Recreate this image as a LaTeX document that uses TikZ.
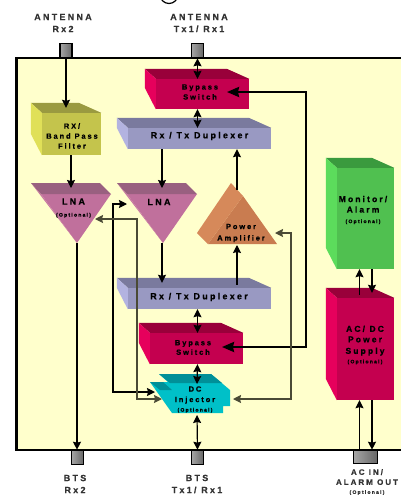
\documentclass[tikz,border=0pt]{standalone}
\usepackage{fontspec}
\setmainfont[LetterSpace=25,BoldFeatures={FakeBold=0.7}]{Liberation Sans}
\usetikzlibrary{arrows.meta}

\definecolor{panelFill}{HTML}{FFFFCC}
\definecolor{bypassTop}{HTML}{99003A}
\definecolor{bypassFront}{HTML}{C4004F}
\definecolor{bypassSide}{HTML}{E6005C}
\definecolor{duplexTop}{HTML}{7A7A9E}
\definecolor{duplexFront}{HTML}{9999C2}
\definecolor{duplexSide}{HTML}{B3B3E0}
\definecolor{filterTop}{HTML}{9A9A40}
\definecolor{filterFront}{HTML}{C4C44C}
\definecolor{filterSide}{HTML}{E0E058}
\definecolor{monitorTop}{HTML}{3A9A3E}
\definecolor{monitorFront}{HTML}{50C050}
\definecolor{monitorSide}{HTML}{5CDC5C}
\definecolor{lnaTop}{HTML}{996080}
\definecolor{lnaFront}{HTML}{C0709C}
\definecolor{lnaSide}{HTML}{C878A2}
\definecolor{ampFront}{HTML}{C97C50}
\definecolor{ampSide}{HTML}{D6895A}
\definecolor{dcTop}{HTML}{009098}
\definecolor{dcFront}{HTML}{00C0C8}
\definecolor{paleLine}{HTML}{4A4A35}

\newcommand{\optional}{{\fontsize{5}{6}\selectfont (Optional)}}
% front face as a node, then the two faces behind it
\newcommand{\slab}[5]{
  \node[face=#5, minimum width=#3pt, minimum height=#4pt] (#1) at (#2) {};
  \fill[#5Top] (#1.north west) -- ++(-11,-10) -- ++(#3-11,0) -- (#1.north east) -- cycle;
  \fill[#5Side] (#1.north west) -- ++(-11,-10) -- ++(0,#4-11) -- (#1.south west) -- cycle;
}

\begin{document}
\begin{tikzpicture}[x=1pt, y=-1pt, >={Stealth[length=8pt,width=8pt,inset=1pt]},
                    face/.style={fill=#1Front, inner sep=0pt},
                    port/.style={draw=black, line width=1.6pt, inner sep=0pt, left color=black!35, right color=black!60},
                    txt/.style={align=center, inner sep=0pt, font=\fontsize{#1}{#1}\selectfont\bfseries},
                    lab/.style={align=center, inner sep=0pt, text=black!80, font=\fontsize{#1}{12}\selectfont\bfseries},
                    link/.style={line width=1.2pt},
                    pale/.style={line width=1.3pt, draw=paleLine},
                    bus/.style={line width=2.2pt, >={Stealth[length=12pt,width=10pt,inset=1pt]}}]
\useasboundingbox (0,0) rectangle (401,496);

\draw[line width=1.2pt] (169,-5.5) circle (9);

\fill[panelFill] (16.5,58) rectangle (401,450);
\draw[line width=2.2pt] (401,58) -- (16.5,58) -- (16.5,450) -- (401,450);

\node[port, minimum width=12pt, minimum height=14pt] (antRx) at (66,50.5) {};
\node[port, minimum width=12pt, minimum height=14pt] (antTx) at (197.5,50.5) {};
\node[port, minimum width=12pt, minimum height=14pt] (btsRx) at (77.5,457.5) {};
\node[port, minimum width=12pt, minimum height=14pt] (btsTx) at (197.5,457.5) {};
\node[port, minimum width=24pt, minimum height=13pt] (acPort) at (365.5,457) {};

\slab{bypassUp}{202.5,94}{93}{30}{bypass}
\slab{duplexUp}{199.5,138.5}{143}{21}{duplex}
\slab{rxFilter}{71.5,134}{59}{42}{filter}
\slab{monitor}{365.5,218.5}{57}{101}{monitor}
\slab{acdc}{365.5,349}{57}{102}{bypass}
\slab{duplexLow}{199.5,298.5}{143}{21}{duplex}
\slab{bypassLow}{196.5,348.5}{93}{31}{bypass}

% lna one
\fill[lnaFront] (41,194) -- (111,194) -- (77,243) -- cycle;
\fill[lnaSide] (31,183) -- (41,194) -- (77,243) -- cycle;
\fill[lnaTop] (31,183) -- (100,183) -- (111,194) -- (41,194) -- cycle;
% lna two
\fill[lnaFront] (127,194) -- (197,194) -- (163,243) -- cycle;
\fill[lnaSide] (117,183) -- (127,194) -- (163,243) -- cycle;
\fill[lnaTop] (117,183) -- (186,183) -- (197,194) -- (127,194) -- cycle;
% power amplifier
\fill[ampFront] (243,196) -- (208,244) -- (277,244) -- cycle;
\fill[ampSide] (231,183) -- (197,233) -- (208,244) -- (243,196) -- cycle;
% dc injector
\fill[dcFront] (159,374) -- (211,374) -- (230,390) -- (230,406) -- (223,406) -- (223,413) -- (172,413) -- (150,382) -- (168,382) -- cycle;
\fill[dcTop] (159,374) -- (211,374) -- (222,383) -- (170,383) -- cycle;
\fill[dcTop] (150,382) -- (163,382) -- (172,390) -- (160,390) -- cycle;

\node[lab=9] (antRxText) at (63,23) {ANTENNA\\Rx2};
\node[lab=9] (antTxText) at (199,23) {ANTENNA\\Tx1/ Rx1};
\node[lab=9] (btsRxText) at (75,484) {BTS\\Rx2};
\node[lab=9] (btsTxText) at (197,484) {BTS\\Tx1/ Rx1};
\node[lab=8] (acText) at (367,482) {AC IN/\\[-2pt]ALARM OUT\\[-3pt]\optional};

\node[txt=7.5] (bypassUpText) at (200,92) {Bypass\\[2.5pt]Switch};
\node[txt=9] (duplexUpText) at (199.5,136) {Rx / Tx Duplexer};
\node[txt=7.5] (rxFilterText) at (72,136) {RX/\\[2.5pt]Band Pass\\[2.5pt]Filter};
\node[txt=9] (lnaOneText) at (73.5,208) {LNA\\[3pt]\optional};
\node[txt=9] (lnaTwoText) at (159,202) {LNA};
\node[txt=7.5] (ampText) at (241,233) {Power\\[4pt]Amplifier};
\node[txt=8.5] (monitorText) at (363,210) {Monitor/\\[2pt]Alarm\\[2pt]\optional};
\node[txt=8.5] (acdcText) at (365,345) {AC/ DC\\[2pt]Power\\[3pt]Supply\\[1pt]\optional};
\node[txt=9] (duplexLowText) at (199,297) {Rx / Tx Duplexer};
\node[txt=7.5] (bypassLowText) at (193,347.5) {Bypass\\[2pt]Switch};
\node[txt=7.5] (dcText) at (195,399.5) {DC\\[3pt]Injector\\[2pt]\optional};

\coordinate (lnaOneIn) at (71,188);
\coordinate (lnaTwoIn) at (162,188);
\coordinate (lnaOneTip) at (77,243);
\coordinate (lnaTwoTip) at (162,243);
\coordinate (lnaOneSide) at (95,219);
\coordinate (lnaTwoSide) at (127,204);
\coordinate (ampTop) at (237,190);
\coordinate (ampBase) at (237,245);
\coordinate (ampSide) at (275,233);
\coordinate (dcUp) at (197,384);
\coordinate (dcDown) at (197,415);
\coordinate (dcLeftUp) at (155,392);
\coordinate (dcLeftLow) at (162,399);
\coordinate (dcRight) at (233,399);
\coordinate (bypassUpIn) at (227,92);
\coordinate (bypassLowIn) at (222,347);

\draw[->, link] (antRx.south) -- ([yshift=5pt]rxFilter.north -| antRx.south);
\draw[->, link] (rxFilter.south -| lnaOneIn) -- (lnaOneIn);
\draw[<->, link] (antTx.south) -- (bypassUp.north -| antTx.south);
\draw[<->, link] (bypassUp.south -| antTx.south) -- (duplexUp.north -| antTx.south);
\draw[->, link] (duplexUp.south -| lnaTwoIn) -- (lnaTwoIn);
\draw[->, link] (ampTop) -- (duplexUp.south -| ampTop);
\draw[->, link] (lnaOneTip) -- (btsRx.north -| lnaOneTip);
\draw[->, link] (lnaTwoTip) -- ([yshift=5pt]duplexLow.north -| lnaTwoTip);
\draw[->, link] ([yshift=3pt]duplexLow.north -| ampTop) -- (ampBase);
\draw[<->, link] (duplexLow.south -| antTx.south) -- (bypassLow.north -| antTx.south);
\draw[<->, link] (bypassLow.south -| antTx.south) -- (dcUp);
\draw[<->, link] (dcDown) -- (btsTx.north);
\draw[<->, bus] (bypassUpIn) -- ++(79,0) |- (bypassLowIn);
\draw[<->, link] (dcLeftUp) -- ++(-42,0) |- (lnaTwoSide);
\draw[<->, pale] (dcLeftLow) -- ++(-25,0) |- (lnaOneSide);
\draw[<->, pale] (dcRight) -- ++(58,0) |- (ampSide);
\draw[->, link] ([xshift=-6pt,yshift=3pt]acdc.north) -- ([xshift=-6pt]monitor.south);
\draw[->, link] ([xshift=6.5pt]monitor.south) -- ([xshift=6.5pt,yshift=5pt]acdc.north);
\draw[->, link] ([xshift=-6pt]acPort.north) -- ([xshift=-6pt]acdc.south);
\draw[->, link] ([xshift=6.5pt]acdc.south) -- ([xshift=6.5pt]acPort.north);
\end{tikzpicture}
\end{document}
